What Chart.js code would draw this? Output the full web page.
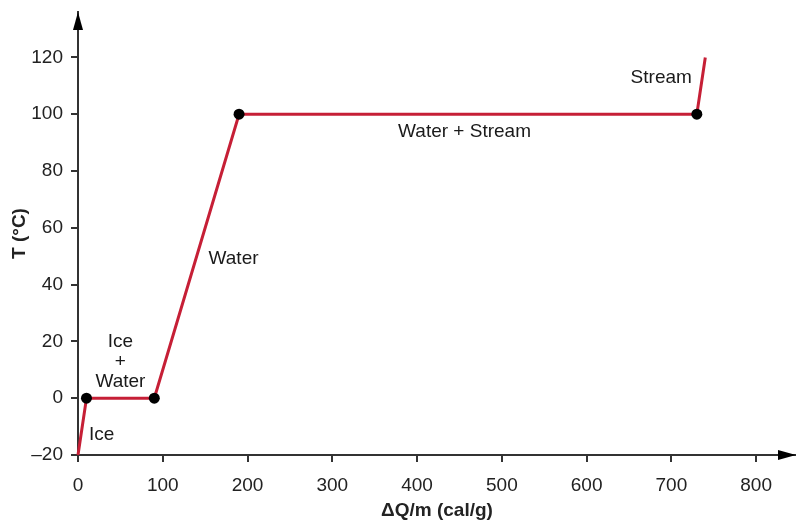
<!DOCTYPE html>
<html lang="en">
<head>
    <meta charset="UTF-8">
    <title>Heating curve of water</title>
    <style>
        html, body { margin: 0; padding: 0; background: #fff; }
        #wrap { width: 796px; height: 522px; }
    </style>
</head>
<body>
    <div id="wrap"><canvas id="heatChart" width="796" height="522"></canvas></div>
    <script src="https://cdn.jsdelivr.net/npm/chart.js"></script>
    <script>
        // data
        const heatPerMass = [0, 10, 90, 190, 730, 740];
        const temperature = [-20, 0, 0, 100, 100, 120];
        const dotRadius = [0, 5.5, 5.5, 5.5, 5.5, 0];
        const xTickValues = [0, 100, 200, 300, 400, 500, 600, 700, 800];
        const yTickValues = [-20, 0, 20, 40, 60, 80, 100, 120];
        const phaseLabels = [['Ice'], ['Ice', '+', 'Water'], ['Water'], ['Water + Stream'], ['Stream']];

        // where each phase label sits (data units)
        const labelAt = [
            { x: 28, y: -13 },
            { x: 50, y: 19.7, step: 7 },
            { x: 183.5, y: 49 },
            { x: 456, y: 94 },
            { x: 688, y: 112.7 }
        ];

        const FONT = '"Liberation Sans", Arial, Helvetica, sans-serif';
        const AXIS = '#333';

        const arrowsAndLabels = {
            id: 'arrowsAndLabels',
            afterDraw(chart) {
                const ctx = chart.ctx;
                const area = chart.chartArea;
                const xs = chart.scales.x, ys = chart.scales.y;
                ctx.save();
                ctx.fillStyle = '#000';
                // y arrow
                ctx.beginPath();
                ctx.moveTo(area.left, area.top);
                ctx.lineTo(area.left - 5, area.top + 18);
                ctx.lineTo(area.left + 5, area.top + 18);
                ctx.closePath();
                ctx.fill();
                // x arrow
                ctx.beginPath();
                ctx.moveTo(area.right, area.bottom);
                ctx.lineTo(area.right - 18, area.bottom - 5);
                ctx.lineTo(area.right - 18, area.bottom + 5);
                ctx.closePath();
                ctx.fill();

                ctx.fillStyle = '#1a1a1a';
                ctx.font = '19px ' + FONT;
                ctx.textAlign = 'center';
                ctx.textBaseline = 'middle';
                phaseLabels.forEach(function (lines, i) {
                    const pos = labelAt[i];
                    lines.forEach(function (txt, j) {
                        const yv = pos.y - j * (pos.step || 0);
                        ctx.fillText(txt, xs.getPixelForValue(pos.x), ys.getPixelForValue(yv));
                    });
                });
                ctx.restore();
            }
        };

        function noPad(s) {
            s.paddingTop = 0;
            s.paddingBottom = 0;
            s.paddingLeft = 0;
            s.paddingRight = 0;
        }

        const ctx = document.getElementById('heatChart');
        new Chart(ctx, {
            type: 'line',
            data: {
                datasets: [{
                    data: heatPerMass.map((x, i) => ({ x: x, y: temperature[i] })),
                    borderColor: '#c61f36',
                    borderWidth: 3,
                    pointRadius: dotRadius,
                    pointBackgroundColor: '#000',
                    pointBorderWidth: 0,
                    tension: 0,
                    clip: false
                }]
            },
            options: {
                responsive: false,
                animation: false,
                layout: { padding: { top: 12, right: 0, left: 0, bottom: 0 } },
                plugins: {
                    legend: { display: false },
                    tooltip: { enabled: false }
                },
                scales: {
                    x: {
                        type: 'linear',
                        min: 0,
                        max: 847,
                        afterBuildTicks: s => { s.ticks = xTickValues.map(v => ({ value: v })); },
                        afterFit: s => { s.height = 67; noPad(s); },
                        grid: { drawOnChartArea: false, drawTicks: true, tickLength: 7, color: AXIS, lineWidth: 2 },
                        border: { display: true, color: AXIS, width: 2 },
                        ticks: { color: '#222', padding: 12, font: { family: FONT, size: 19 }, maxRotation: 0 },
                        title: {
                            display: true,
                            text: 'ΔQ/m (cal/g)',
                            color: '#222',
                            font: { family: FONT, size: 19, weight: 'bold' },
                            padding: { top: 0, bottom: 0 }
                        }
                    },
                    y: {
                        type: 'linear',
                        min: -20,
                        max: 136,
                        afterBuildTicks: s => { s.ticks = yTickValues.map(v => ({ value: v })); },
                        afterFit: s => { s.width = 78; noPad(s); },
                        grid: { drawOnChartArea: false, drawTicks: true, tickLength: 7, color: AXIS, lineWidth: 2 },
                        border: { display: true, color: AXIS, width: 2 },
                        ticks: {
                            color: '#222',
                            padding: 8,
                            font: { family: FONT, size: 19 },
                            callback: v => String(v).replace('-', '\u2013')
                        },
                        title: {
                            display: true,
                            text: 'T (°C)',
                            color: '#222',
                            font: { family: FONT, size: 19, weight: 'bold' },
                            padding: { top: 8, bottom: 8 }
                        }
                    }
                }
            },
            plugins: [arrowsAndLabels]
        });
    </script>
</body>
</html>
